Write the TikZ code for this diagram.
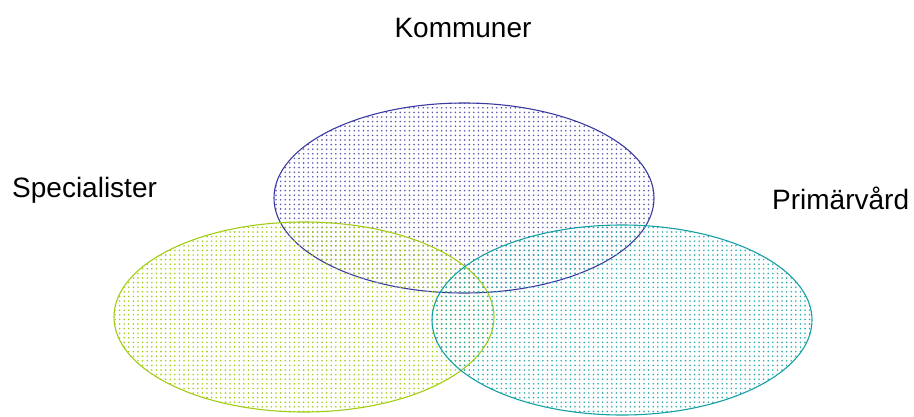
\documentclass[tikz,border=0pt]{standalone}
\usepackage{fontspec}
\setmainfont{Liberation Sans}
\usetikzlibrary{shapes.geometric,patterns.meta}
\definecolor{kblue}{RGB}{58,58,160}
\definecolor{sgreen}{RGB}{160,205,20}
\definecolor{pteal}{RGB}{20,160,165}
\tikzset{
  groupset/.style={ellipse, line width=1.1pt, minimum width=380pt, minimum height=190pt, inner sep=0pt},
  kommunset/.style={groupset, draw=kblue, pattern={Dots[distance=4.6pt, radius=0.9pt]}, pattern color=kblue!85},
  specset/.style={groupset, draw=sgreen, pattern={Dots[distance=4.6pt, radius=0.9pt]}, pattern color=sgreen},
  primset/.style={groupset, draw=pteal, pattern={Dots[distance=4.6pt, radius=0.9pt]}, pattern color=pteal!90},
  grouplabel/.style={font=\fontsize{28}{34}\selectfont, inner sep=0pt}
}
\begin{document}
\begin{tikzpicture}[x=1pt, y=-1pt]
  \useasboundingbox (0,0) rectangle (914,416);
  \node[kommunset] (kommun) at (464,198) {};
  \node[specset] (spec) at (304,317) {};
  \node[primset] (prim) at (622,320) {};
  \node[grouplabel, anchor=base] (kommunlabel) at (463,37) {Kommuner};
  \node[grouplabel, anchor=base west] (speclabel) at (12,197) {Specialister};
  \node[grouplabel, anchor=base west] (primlabel) at (772,209) {Primärvård};
\end{tikzpicture}
\end{document}
